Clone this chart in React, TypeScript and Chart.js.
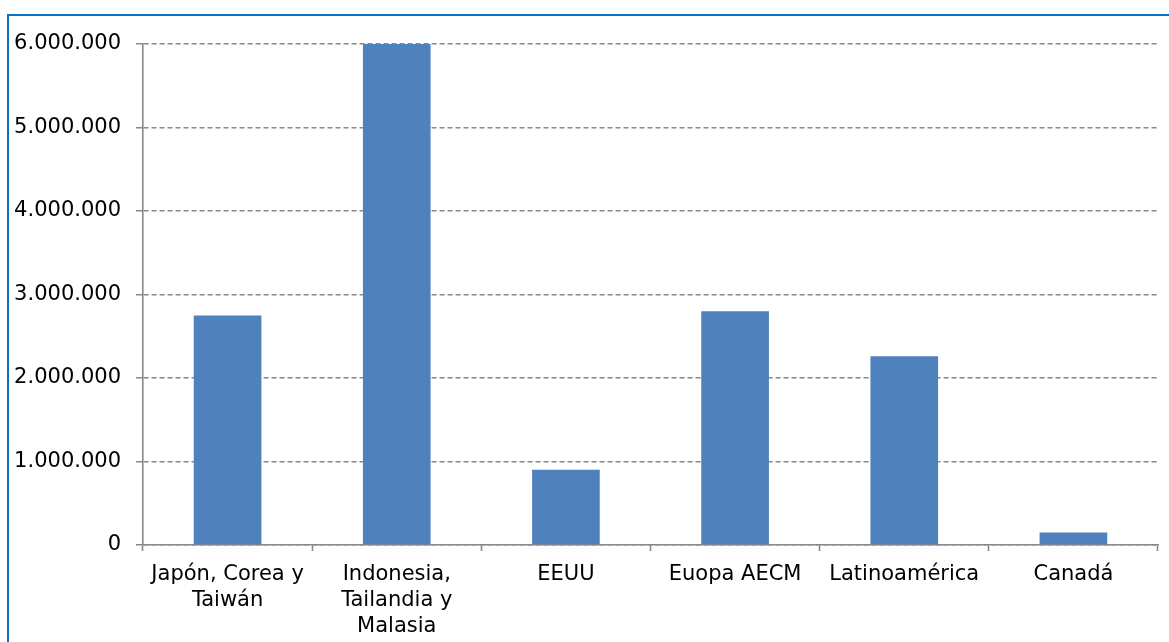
import React, { useEffect, useRef } from "react";
import { Chart, registerables } from "chart.js";

Chart.register(...registerables);

// Regions and their volumes
const regions: (string | string[])[] = [
  ["Japón, Corea y", "Taiwán"],
  ["Indonesia,", "Tailandia y", "Malasia"],
  "EEUU",
  "Euopa AECM",
  "Latinoamérica",
  "Canadá",
];
const volumes = [2750000, 6000000, 900000, 2800000, 2260000, 150000];

const yMax = 6000000;
const yStep = 1000000;

const W = 1169;
const H = 642;

// 6000000 -> "6.000.000"
const withDots = (v: number) =>
  Math.round(v).toString().replace(/\B(?=(\d{3})+(?!\d))/g, ".");

export default function App() {
  const ref = useRef<HTMLCanvasElement | null>(null);

  useEffect(() => {
    if (!ref.current) return;
    const font = { family: "'DejaVu Sans', Verdana, sans-serif", size: 21, lineHeight: 1.25 };
    const chart = new Chart(ref.current, {
      type: "bar",
      data: {
        labels: regions,
        datasets: [
          {
            data: volumes,
            backgroundColor: "#4F81BD",
            borderWidth: 0,
            barPercentage: 0.4,
            categoryPercentage: 1,
          },
        ],
      },
      options: {
        responsive: false,
        animation: false,
        layout: { padding: { top: 44, right: 11, bottom: 0, left: 0 } },
        plugins: { legend: { display: false }, tooltip: { enabled: false } },
        scales: {
          x: {
            afterFit: (s: any) => {
              s.height = 97;
            },
            grid: {
              drawOnChartArea: false,
              drawTicks: true,
              tickLength: 6,
              tickColor: "#888888",
              tickWidth: 1.6,
              offset: true,
            },
            border: { display: true, color: "#888888", width: 1.6 },
            ticks: {
              color: "#000",
              font,
              padding: 10,
              maxRotation: 0,
              autoSkip: false,
            },
          },
          y: {
            min: 0,
            max: yMax,
            afterFit: (s: any) => {
              s.width = 143;
            },
            grid: {
              color: "#888888",
              lineWidth: 1.5,
              tickLength: 7,
              tickColor: "#888888",
              tickWidth: 1.5,
              tickBorderDash: [],
            },
            border: { display: true, color: "#888888", width: 1.6, dash: [5, 3] },
            ticks: {
              stepSize: yStep,
              color: "#000",
              font,
              padding: 15,
              callback: (v: any) => withDots(Number(v)),
            },
          },
        },
      },
    });
    return () => chart.destroy();
  }, []);

  return (
    <div
      style={{
        position: "fixed",
        left: 0,
        top: 0,
        width: W,
        height: H,
        overflow: "hidden",
        background: "#fff",
      }}
    >
      <div
        style={{
          position: "absolute",
          left: 7,
          top: 14,
          width: W + 20,
          height: H + 20,
          borderLeft: "2px solid #0a70c2",
          borderTop: "2px solid #0a70c2",
          boxSizing: "border-box",
        }}
      />
      <canvas
        ref={ref}
        width={W}
        height={H}
        style={{ position: "absolute", left: 0, top: 0, width: W, height: H }}
      />
    </div>
  );
}
